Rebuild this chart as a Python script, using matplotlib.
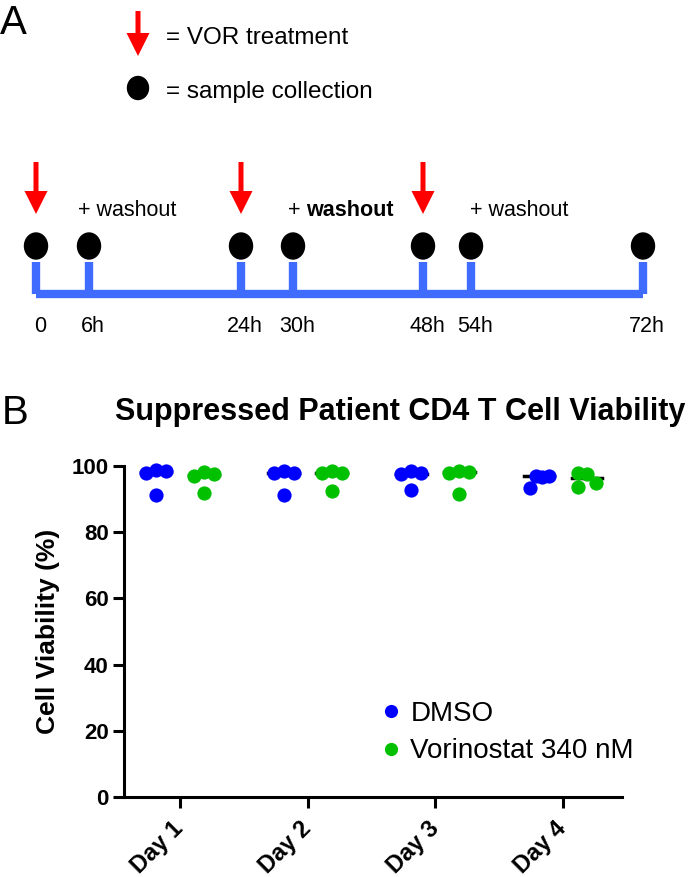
import numpy as np
import matplotlib
matplotlib.use("Agg")
import matplotlib.pyplot as plt
from matplotlib.patches import Ellipse
from matplotlib.lines import Line2D

plt.rcParams["font.family"] = ["Liberation Sans", "DejaVu Sans"]

# ---- panel A: treatment schedule ----
timepoints = ["0", "6h", "24h", "30h", "48h", "54h", "72h"]
treated = ["0", "24h", "48h"]
washout_after = ["6h", "30h", "54h"]

# ---- panel B: viability data ----
days = ["Day 1", "Day 2", "Day 3", "Day 4"]
dmso = [[98.0, 98.8, 98.6, 91.2],
        [97.8, 98.5, 98.0, 91.2],
        [97.6, 98.6, 97.8, 92.7],
        [93.3, 97.0, 96.8, 97.0]]
vorinostat = [[97.0, 98.3, 97.6, 91.7],
              [97.8, 98.6, 98.0, 92.5],
              [98.0, 98.5, 98.2, 91.5],
              [98.0, 97.5, 95.0, 93.6]]

BLUE = "#0000ff"
GREEN = "#00c000"
LINE_BLUE = "#3f6cff"

W, H = 700, 877
fig = plt.figure(figsize=(W / 100, H / 100), dpi=100)

# panel A drawn in pixel coordinates (schematic, not to scale)
ax_a = fig.add_axes([0, 1 - 345 / H, 1, 345 / H])
ax_a.set_xlim(0, W)
ax_a.set_ylim(345, 0)
ax_a.axis("off")
tl_x = [36, 89, 241, 293, 423, 471, 643]

fig.text(0 / W, 1 - 34 / H, "A", fontsize=29, ha="left", va="baseline")

def red_arrow(x, y0, y1):
    ax_a.arrow(x, y0, 0, y1 - y0, width=5, head_width=23, head_length=23,
               length_includes_head=True, color="red", lw=0)

red_arrow(138, 11, 56)
ax_a.text(166, 38, "= VOR treatment", fontsize=17.5, va="center")
ax_a.add_patch(Ellipse((138, 88), 21, 23, color="black"))
ax_a.text(166, 92, "= sample collection", fontsize=17.5, va="center")

ax_a.plot([tl_x[0], tl_x[-1]], [294, 294], color=LINE_BLUE, lw=6, solid_capstyle="butt")
for x, lab in zip(tl_x, timepoints):
    ax_a.plot([x, x], [262, 294], color=LINE_BLUE, lw=6, solid_capstyle="butt")
    ax_a.add_patch(Ellipse((x, 246), 23, 26, color="black"))
    ax_a.text(x + 4, 326, lab, fontsize=15.5, ha="center", va="center")
    if lab in treated:
        red_arrow(x, 162, 214)

wash_x = {"6h": 78, "30h": 288, "54h": 470}
for lab in washout_after:
    x = wash_x[lab]
    if lab == "30h":
        ax_a.text(x, 210, "+ ", fontsize=15.5, va="center")
        ax_a.text(x + 18, 210, "washout", fontsize=15.5, va="center", fontweight="bold")
    else:
        ax_a.text(x, 210, "+ washout", fontsize=15.5, va="center")

# panel B
fig.text(2 / W, 1 - 424 / H, "B", fontsize=29, ha="left", va="baseline")
ax = fig.add_axes([124 / W, 1 - 797 / H, 498 / W, 331 / H])
ax.set_xlim(0.561, 4.462)
ax.set_ylim(0, 100)

grp = 24 / 127.67
jit = 10 / 127.67
dmso_off = [[-1, 0, 1, 0]] * 3 + [[-0.9, -0.3, 0.3, 1.0]]
vor_off = [[-1, 0, 1, 0]] * 3 + [[-0.9, 0, 0.9, -0.9]]

for i, d in enumerate(days):
    pos = i + 1
    for vals, offs, sign, col in ((dmso[i], dmso_off[i], -1, BLUE),
                                  (vorinostat[i], vor_off[i], 1, GREEN)):
        cx = pos + sign * grp
        med = np.median(vals)
        ax.plot([cx - 0.12, cx + 0.12], [med, med], color="black", lw=2.5, zorder=2)
        ax.scatter(cx + np.array(offs) * jit, vals, s=105, color=col, zorder=3,
                   linewidths=0, clip_on=False)

for s in ("top", "right"):
    ax.spines[s].set_visible(False)
for s in ("left", "bottom"):
    ax.spines[s].set_linewidth(2.2)
ax.tick_params(width=2.2, length=8, labelsize=16, pad=3)
ax.tick_params(axis="x", pad=12)
ax.set_yticks([0, 20, 40, 60, 80, 100])
ax.set_xticks(range(1, len(days) + 1))
ax.set_xticklabels(days, rotation=45, ha="right", va="center", rotation_mode="anchor")
for t in ax.get_xticklabels():
    t.set_fontweight("bold")
    t.set_fontsize(17)
for t in ax.get_yticklabels():
    t.set_fontweight("bold")
ax.set_ylabel("Cell Viability (%)", fontsize=19, fontweight="bold", labelpad=8)
fig.text(400 / W, 1 - 412 / H, "Suppressed Patient CD4 T Cell Viability",
         fontsize=22, fontweight="bold", ha="center", va="center")

handles = [Line2D([], [], ls="", marker="o", ms=9.5, color=BLUE, mec="none"),
           Line2D([], [], ls="", marker="o", ms=9.5, color=GREEN, mec="none")]
fig.legend(handles, ["DMSO", "Vorinostat 340 nM"], loc="upper left",
           bbox_to_anchor=(366 / W, 1 - 690 / H), frameon=False, fontsize=20,
           handletextpad=0.2, labelspacing=0.4, handlelength=1.0, borderaxespad=0)

fig.savefig("out.png", dpi=100)
